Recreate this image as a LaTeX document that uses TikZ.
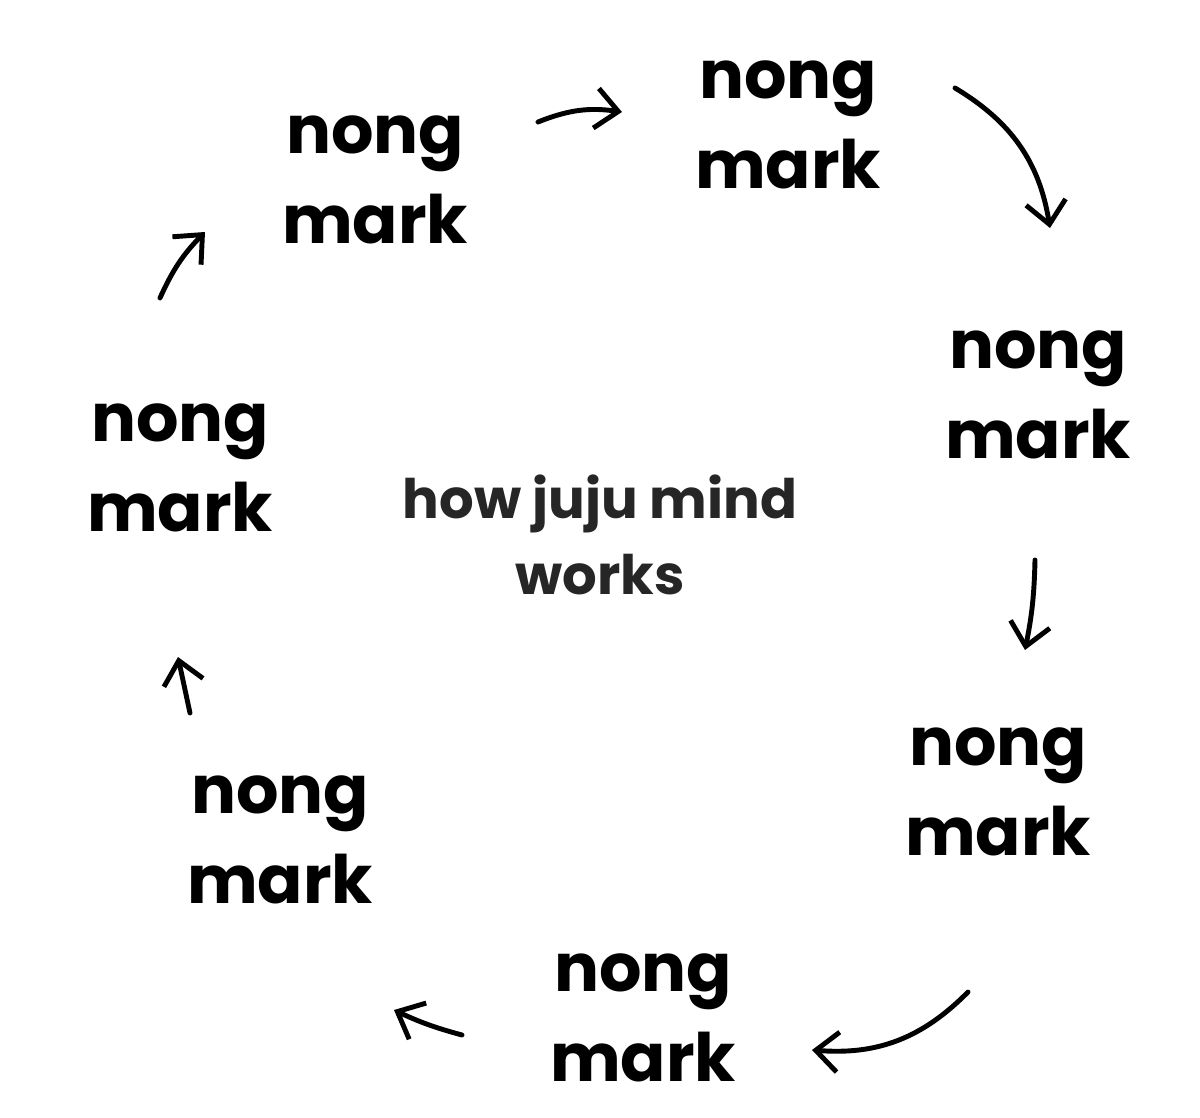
\documentclass[tikz,border=0pt]{standalone}
\usepackage{fontspec}
\setmainfont{Poppins}
\usetikzlibrary{arrows.meta}
\tikzset{>={Straight Barb[length=4.5mm,width=8mm]}}
\tikzset{
  nong/.style = {align=center, font=\fontsize{38}{51}\selectfont\bfseries, text=black},
  juju/.style = {align=center, font=\fontsize{31}{43}\selectfont\bfseries, text=black!85},
  flow/.style = {->, line width=2.8pt, line cap=round}
}
\begin{document}
\begin{tikzpicture}[x=0.02cm,y=-0.02cm]
  \useasboundingbox (0,0) rectangle (1200,1118);
  \node[nong] (n1) at (375,180) {nong\\mark};
  \node[nong] (n2) at (788,125) {nong\\mark};
  \node[nong] (n3) at (1038,395) {nong\\mark};
  \node[nong] (n4) at (998,792) {nong\\mark};
  \node[nong] (n5) at (643,1018) {nong\\mark};
  \node[nong] (n6) at (280,840) {nong\\mark};
  \node[nong] (n7) at (180,468) {nong\\mark};
  \node[juju] (mind) at (600,535) {how juju mind\\works};
  % hand drawn arrows between the labels
  \coordinate (a1) at (538,122); \coordinate (b1) at (622,112);
  \coordinate (a2) at (955,88);  \coordinate (b2) at (1050,228);
  \coordinate (a3) at (1035,560); \coordinate (b3) at (1025,650);
  \coordinate (a4) at (968,992); \coordinate (b4) at (812,1050);
  \coordinate (a5) at (462,1035); \coordinate (b5) at (394,1010);
  \coordinate (a6) at (190,713); \coordinate (b6) at (178,657);
  \coordinate (a7) at (160,298); \coordinate (b7) at (205,232);
  \draw[flow] (a1) to[bend left=15] (b1);
  \draw[flow] (a2) to[bend left=25] (b2);
  \draw[flow] (a3) to[bend left=5] (b3);
  \draw[flow] (a4) to[bend left=25] (b4);
  \draw[flow] (a5) to[bend left=5] (b5);
  \draw[flow] (a6) -- (b6);
  \draw[flow] (a7) to[bend left=10] (b7);
\end{tikzpicture}
\end{document}
